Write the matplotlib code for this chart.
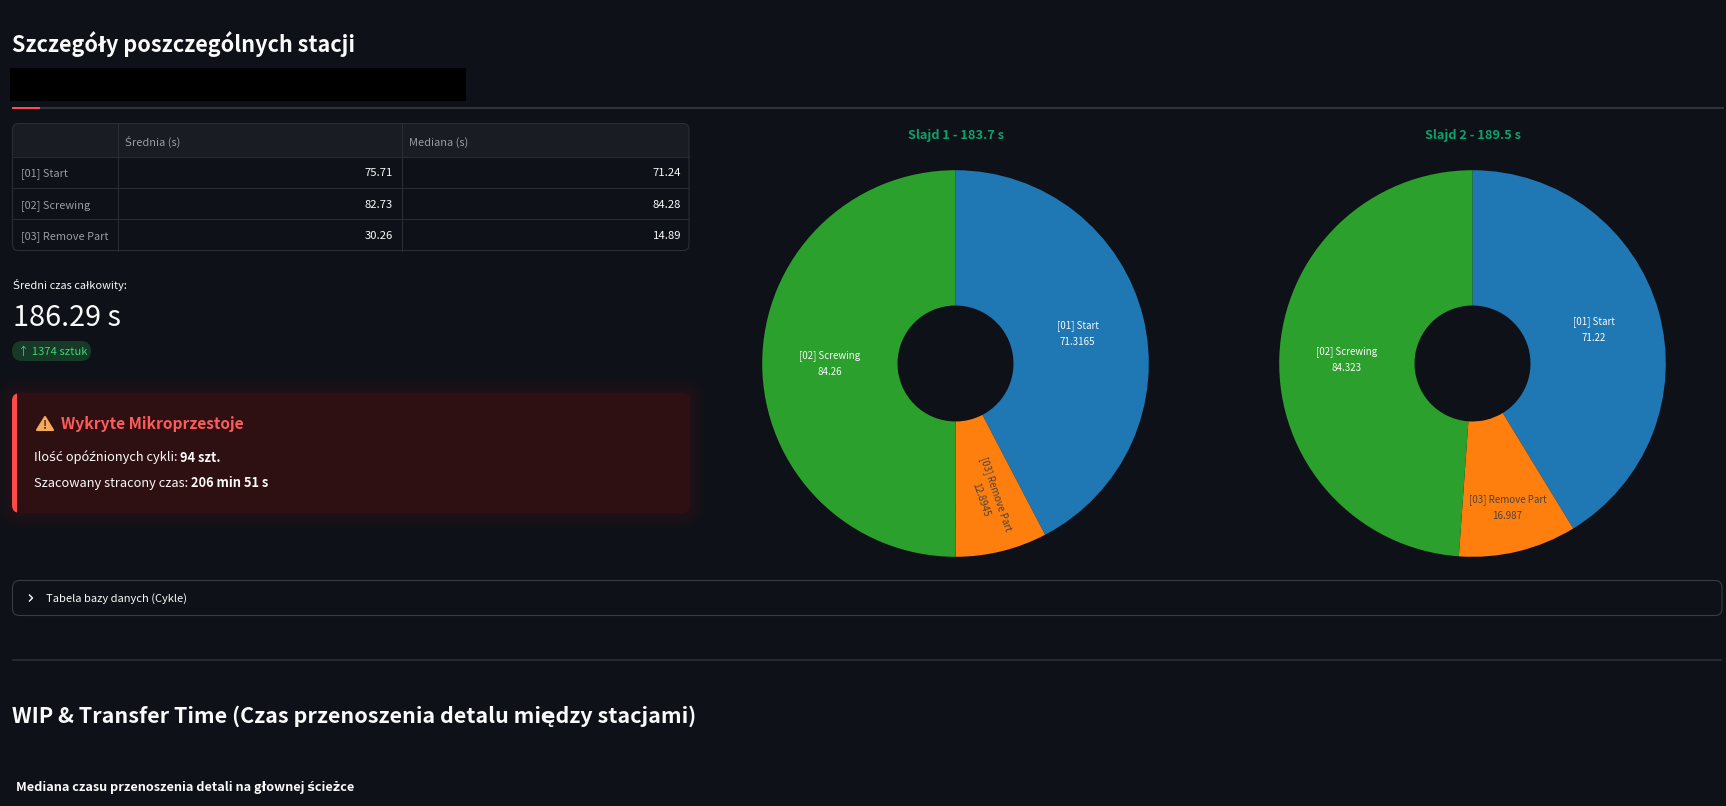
import numpy as np
import matplotlib
matplotlib.use('Agg')
import matplotlib.pyplot as plt
from matplotlib.patches import FancyBboxPatch, Rectangle, Polygon

plt.rcParams['font.family'] = ['Noto Sans CJK SC', 'DejaVu Sans']

# data
stations = ['[01] Start', '[02] Screwing', '[03] Remove Part']
mean_s = ['75.71', '82.73', '30.26']
median_s = ['71.24', '84.28', '14.89']
table_columns = ['Średnia (s)', 'Mediana (s)']

pie_order = ['[01] Start', '[03] Remove Part', '[02] Screwing']
slide1_values = [71.3165, 12.8945, 84.26]
slide2_values = [71.22, 16.987, 84.323]
slide1_labels = ['71.3165', '12.8945', '84.26']
slide2_labels = ['71.22', '16.987', '84.323']
pie_colors = ['#1f77b4', '#ff7f0e', '#2ca02c']

W, H = 1726, 806
BG = '#0e1117'
GRID = '#2b2d35'
WHITE = '#fafafa'
GREY = '#9a9ca3'

fig = plt.figure(figsize=(W / 100, H / 100), dpi=100, facecolor=BG)
page = fig.add_axes([0, 0, 1, 1])
page.set_xlim(0, W)
page.set_ylim(H, 0)
page.axis('off')


def txt(x, y, s, size, color=WHITE, weight='normal', ha='left'):
    # size in pixels, y is the vertical centre of the line
    return page.text(x, y, s, fontsize=size * 0.72, color=color, fontweight=weight,
                     ha=ha, va='center_baseline')


def box(x0, y0, x1, y1, radius, **kw):
    p = FancyBboxPatch((x0, y0), x1 - x0, y1 - y0,
                       boxstyle='round,pad=0,rounding_size=%s' % radius, **kw)
    page.add_patch(p)
    return p


def hline(x0, x1, y, color, lw=1.0):
    page.plot([x0, x1], [y, y], color=color, lw=lw * 0.72, solid_capstyle='butt')


# headers
txt(12, 42, 'Szczegóły poszczególnych stacji', 21.6, weight='bold')
page.add_patch(Rectangle((10, 68), 456, 33, facecolor='black', edgecolor='none'))
hline(12, 1724, 108, '#303238', 2)
hline(12, 40, 108, '#ff4b4b', 2)

# table
outer = box(12.5, 123.5, 689, 250.5, 6, facecolor='none', edgecolor=GRID, lw=0.8, zorder=3)
head = Rectangle((12, 123), 678, 33.5, facecolor='#1a1c24', edgecolor='none', zorder=1)
page.add_patch(head)
head.set_clip_path(outer)
for y in [156.5, 187.5, 218.5]:
    hline(12.5, 689, y, GRID)
for x in [117.5, 401.5]:
    page.plot([x, x], [123.5, 250.5], color=GRID, lw=0.72)

txt(125, 141, table_columns[0], 11, GREY)
txt(408.5, 141, table_columns[1], 11, GREY)
row_y = [172.3, 203.7, 235]
for i in range(len(stations)):
    txt(21, row_y[i], stations[i], 11, GREY)
    txt(393, row_y[i], mean_s[i], 11.3, WHITE, ha='right')
    txt(681, row_y[i], median_s[i], 11.3, WHITE, ha='right')

# metric
txt(12.5, 284, 'Średni czas całkowity:', 11)
txt(13, 315, '186.29 s', 28.8)
box(12, 341, 91, 361, 10, facecolor='#173928', edgecolor='none')
txt(18, 351, '↑ 1374 sztuk', 11.3, '#3dd56d')

# alert box with a soft red glow
for g in range(1, 17):
    box(12 - g, 393 - g, 690 + g, 513 + g, 8 + g, facecolor='#ff4b4b', edgecolor='none', alpha=0.006)
card = box(12, 393, 690, 513, 8, facecolor='#2f1012', edgecolor='none')
strip = Rectangle((12, 393), 5, 120, facecolor='#ff4b4b', edgecolor='none')
page.add_patch(strip)
strip.set_clip_path(card)
page.add_patch(Polygon([[45, 417], [37, 430], [53, 430]], closed=True, facecolor='#f7a95c',
                       edgecolor='#f7a95c', lw=1.5, joinstyle='round'))
page.text(45, 425.5, '!', fontsize=8, color='#3b2a1a', ha='center', va='center', fontweight='bold')
txt(60.7, 422.7, 'Wykryte Mikroprzestoje', 15.6, '#ff5a5a', 'bold')


def mixed(x, y, regular, bold, size):
    a = txt(x, y, regular, size)
    fig.canvas.draw()
    end = page.transData.inverted().transform((a.get_window_extent().x1, 0))[0]
    txt(end + 3, y, bold, size, weight='bold')


mixed(33.5, 456, 'Ilość opóźnionych cykli:', '94 szt.', 12.85)
mixed(33.5, 481.7, 'Szacowany stracony czas:', '206 min 51 s', 12.85)

# expander, divider, lower headings
box(12.5, 580.5, 1722, 615.5, 7, facecolor='none', edgecolor='#3a3c44', lw=0.8)
page.plot([29.5, 32.5, 29.5], [595, 598, 601], color=WHITE, lw=1.0)
txt(46, 597.5, 'Tabela bazy danych (Cykle)', 11.15)
hline(12, 1722, 659.5, '#303238', 1.5)
txt(12, 714, 'WIP & Transfer Time (Czas przenoszenia detalu między stacjami)', 21.5, weight='bold')
txt(15.8, 785.5, 'Mediana czasu przenoszenia detali na głownej ścieżce', 12.7, weight='bold')


# donuts
def donut(cx, cy, r, values, value_labels, title, remove_r, remove_rot):
    ax = fig.add_axes([(cx - r) / W, 1 - (cy + r) / H, 2 * r / W, 2 * r / H])
    ax.patch.set_alpha(0)
    wedges, _ = ax.pie(values, colors=pie_colors, startangle=90, counterclock=False, radius=1,
                       wedgeprops={'width': 0.7, 'linewidth': 0})
    ax.set_xlim(-1, 1)
    ax.set_ylim(-1, 1)
    for i, w in enumerate(wedges):
        ang = np.deg2rad((w.theta1 + w.theta2) / 2)
        is_small = pie_order[i] == '[03] Remove Part'
        rf = remove_r if is_small else 0.65
        ax.text(rf * np.cos(ang), rf * np.sin(ang), pie_order[i] + '\n' + value_labels[i],
                fontsize=7, ha='center', va='center', ma='center', linespacing=1.75,
                rotation=remove_rot if is_small else 0, rotation_mode='anchor',
                color='#444444' if is_small else WHITE)
    txt(cx, 134.3, title, 12.8, '#09a36c', 'bold', ha='center')


donut(955.5, 363.5, 193.3, slide1_values, slide1_labels, 'Slajd 1 - 183.7 s', 0.71, -71)
donut(1472.5, 363.5, 193.3, slide2_values, slide2_labels, 'Slajd 2 - 189.5 s', 0.767, 0)

fig.savefig('out.png', dpi=100, facecolor=BG)
